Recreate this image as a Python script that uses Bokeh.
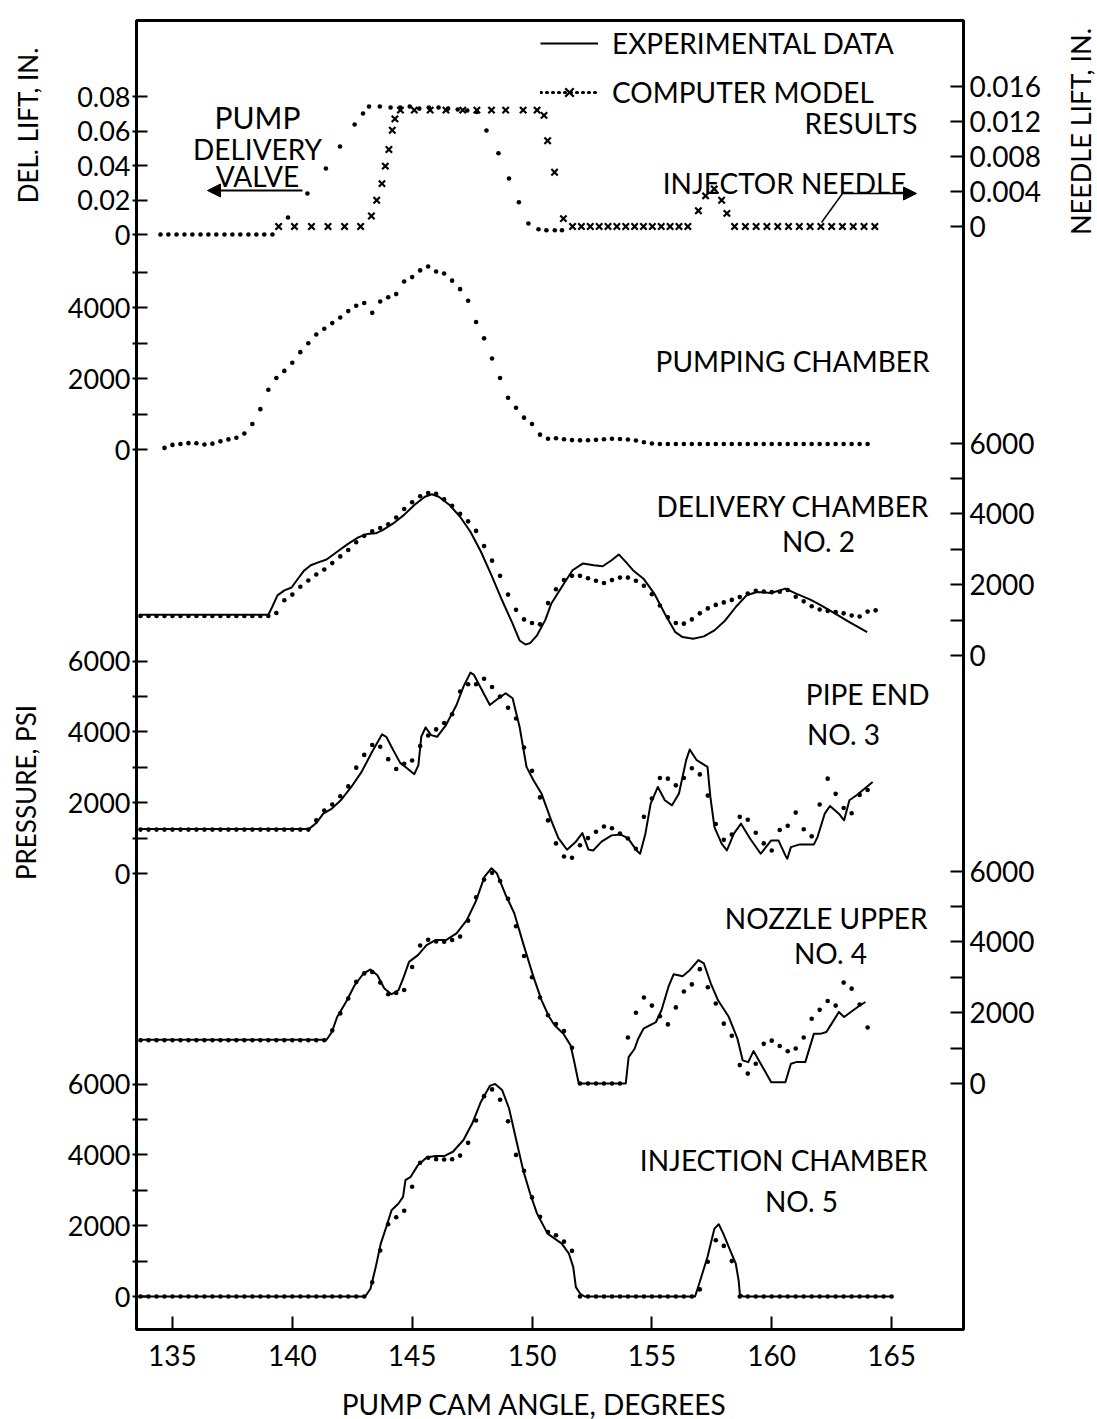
from bokeh.plotting import figure
from bokeh.models import (Range1d, LinearAxis, FixedTicker, Label, Arrow,
                          NormalHead, Legend, LegendItem)
from bokeh.embed import file_html
from bokeh.resources import INLINE

# ---------------------------------------------------------------- data
ANGLE_TICKS = [135, 140, 145, 150, 155, 160, 165]

VALVE_TICKS = [0, 0.02, 0.04, 0.06, 0.08]
VALVE_TICK_LABELS = ["0", "0.02", "0.04", "0.06", "0.08"]
NEEDLE_TICKS = [0, 0.004, 0.008, 0.012, 0.016]
NEEDLE_TICK_LABELS = ["0", "0.004", "0.008", "0.012", "0.016"]
PSI_TICKS = [0, 1000, 2000, 3000, 4000, 5000, 6000]
PSI_TICK_LABELS = ["0", "", "2000", "", "4000", "", "6000"]
PUMP_TICKS = [0, 1000, 2000, 3000, 4000, 5000]
PUMP_TICK_LABELS = ["0", "", "2000", "", "4000", ""]

# pump delivery valve lift, computer model (dots), inches
VALVE_DEG = [134.5, 134.83, 135.17, 135.5, 135.83, 136.17, 136.5, 136.83, 137.17,
             137.5, 137.83, 138.17, 138.5, 138.83, 139.17, 139.82, 140.63, 141.4,
             141.99, 142.6, 142.95, 143.2, 143.65, 144.1, 144.5, 144.9, 145.3, 145.7,
             146.1, 146.5, 146.9, 147.3, 147.7, 148.1, 148.6, 149.04, 149.45, 149.85,
             150.27, 150.6, 150.95, 151.25]
VALVE_LIFT = [0, 0, 0, 0, 0, 0, 0, 0, 0, 0, 0, 0, 0, 0, 0, 0.0099, 0.0238, 0.0383,
              0.0510, 0.0638, 0.0701, 0.0742, 0.0742, 0.0736, 0.0736, 0.0742, 0.0730,
              0.0736, 0.0736, 0.0730, 0.0725, 0.0719, 0.0710, 0.0603, 0.0471, 0.0325,
              0.0187, 0.0064, 0.0030, 0.0025, 0.0025, 0.0025]

# injector needle lift, computer model (x marks), inches
NEEDLE_DEG = [139.43, 140.09, 140.80, 141.49, 142.18, 142.85, 143.30, 143.52, 143.74,
              143.88, 144.03, 144.17, 144.28, 144.51, 145.09, 145.75, 146.41, 147.11,
              147.70, 148.31, 148.90, 149.63, 150.21, 150.50, 150.65, 150.94, 151.31,
              151.69, 152.06, 152.43, 152.80, 153.17, 153.54, 153.91, 154.28, 154.65,
              155.02, 155.39, 155.76, 156.13, 156.50, 156.94, 157.24, 157.60, 157.91,
              158.13, 158.45, 158.90, 159.35, 159.80, 160.25, 160.70, 161.15, 161.60,
              162.05, 162.50, 162.95, 163.40, 163.85, 164.30]
NEEDLE_LIFT = [0, 0, 0, 0, 0, 0, 0.0012, 0.0030, 0.0049, 0.0069, 0.0088, 0.0110, 0.0123,
               0.0133, 0.0133, 0.0133, 0.0133, 0.0133, 0.0133, 0.0133, 0.0133, 0.0133,
               0.0133, 0.0127, 0.0098, 0.0062, 0.0009, 0, 0, 0, 0, 0, 0, 0, 0, 0, 0, 0,
               0, 0, 0, 0.0018, 0.0035, 0.0043, 0.0030, 0.0015, 0, 0, 0, 0, 0, 0, 0, 0,
               0, 0, 0, 0, 0, 0]

# computer model output interval (degrees of cam angle)
MODEL_STEP = 1 / 3

# pumping chamber, model only, psi
PUMP_MODEL_START = 134.667
PUMP_MODEL_PSI = [45, 130, 155, 180, 175, 140, 165, 230, 285, 330, 450, 720, 1140, 1690,
                  2020, 2220, 2450, 2750, 3000, 3250, 3410, 3570, 3730, 3910, 4060, 4140,
                  3860, 4180, 4300, 4390, 4745, 4870, 5060, 5170, 5030, 4970, 4770, 4530,
                  4200, 3600, 3140, 2570, 2020, 1460, 1180, 900, 720, 420, 305, 320, 290,
                  265, 258, 260, 272, 288, 302, 295, 283, 255, 205, 170, 155, 155, 155,
                  155, 155, 155, 155, 155, 155, 155, 155, 155, 155, 155, 155, 155, 155,
                  155, 155, 155, 155, 155, 155, 155, 155, 155, 155]

# delivery chamber no. 2, psi
DLV_EXP_DEG = [133.6, 139.0, 139.16, 139.38, 139.67, 139.97, 140.19, 140.48, 140.77,
               141.14, 141.43, 141.87, 142.31, 142.75, 143.11, 143.48, 143.77, 144.21,
               144.65, 145.09, 145.53, 145.82, 146.11, 146.56, 147.0, 147.43, 147.87,
               148.31, 148.75, 149.19, 149.48, 149.73, 149.92, 150.21, 150.55, 150.8,
               151.24, 151.69, 152.13, 152.58, 152.95, 153.32, 153.62, 153.91, 154.21,
               154.65, 155.10, 155.54, 155.98, 156.28, 156.72, 157.17, 157.61, 158.06,
               158.50, 158.95, 159.39, 159.98, 160.57, 161.02, 161.61, 162.06, 162.65,
               163.24, 163.98]
DLV_EXP_PSI = [1150, 1150, 1370, 1700, 1840, 1920, 2125, 2390, 2550, 2645, 2710, 2930,
               3145, 3335, 3430, 3450, 3540, 3730, 3965, 4250, 4485, 4555, 4485, 4250,
               3920, 3495, 2930, 2265, 1560, 900, 425, 310, 350, 570, 1000, 1460, 1935,
               2408, 2600, 2550, 2520, 2690, 2855, 2645, 2410, 2170, 1750, 1180, 660, 520,
               475, 540, 710, 990, 1370, 1700, 1795, 1765, 1890, 1750, 1580, 1415, 1180,
               945, 660]
DLV_MODEL_START = 133.667
DLV_MODEL_PSI = [1115, 1115, 1115, 1115, 1115, 1115, 1115, 1115, 1115, 1115, 1115, 1115,
                 1115, 1115, 1115, 1115, 1115, 1200, 1560, 1720, 1940, 2120, 2290, 2430,
                 2610, 2800, 2980, 3200, 3380, 3510, 3600, 3710, 3900, 4140, 4330, 4500,
                 4590, 4570, 4410, 4230, 4000, 3790, 3520, 3090, 2680, 2250, 1720, 1290,
                 1020, 920, 880, 1480, 1870, 2130, 2250, 2250, 2180, 2110, 2050, 2130,
                 2200, 2200, 2110, 1970, 1730, 1410, 1080, 920, 900, 1020, 1190, 1330,
                 1430, 1500, 1570, 1650, 1750, 1830, 1810, 1790, 1800, 1850, 1660, 1530,
                 1390, 1300, 1260, 1225, 1190, 1130, 1100, 1240, 1275]

# pipe end no. 3, psi
PIPE_EXP_DEG = [133.6, 140.7, 141.0, 141.29, 141.65, 142.02, 142.46, 142.89, 143.33,
                143.74, 143.92, 144.21, 144.50, 144.80, 145.09, 145.26, 145.38, 145.56,
                145.79, 146.04, 146.41, 146.85, 147.14, 147.43, 147.58, 147.87, 148.24,
                148.60, 148.90, 149.19, 149.48, 149.77, 150.06, 150.4, 150.8, 151.1,
                151.46, 151.83, 152.10, 152.35, 152.55, 152.9, 153.32, 153.7, 154.0,
                154.36, 154.51, 154.73, 154.95, 155.25, 155.54, 155.84, 156.13, 156.43,
                156.58, 156.87, 157.32, 157.44, 157.61, 157.91, 158.13, 158.42, 158.72,
                159.10, 159.54, 159.98, 160.28, 160.57, 160.65, 160.80, 161.17, 161.76,
                161.91, 162.21, 162.43, 162.80, 163.02, 163.24, 163.54, 164.21]
PIPE_EXP_PSI = [1260, 1260, 1425, 1690, 1833, 2068, 2445, 2870, 3437, 3929, 3862, 3485,
                3125, 2966, 2805, 3060, 3862, 4127, 3909, 3862, 4193, 4760, 5278, 5675,
                5609, 5232, 4760, 4949, 5091, 4949, 4146, 3012, 2635, 2250, 1500, 1000,
                671, 900, 1142, 680, 650, 900, 1077, 1100, 1000, 652, 558, 1125, 1975,
                2445, 2068, 1926, 2258, 3201, 3504, 3201, 3012, 2162, 1312, 841, 652, 1125,
                1408, 983, 558, 935, 935, 510, 416, 745, 822, 822, 1029, 1690, 1907, 1690,
                1502, 2068, 2210, 2587]
PIPE_MODEL_START = 133.667
PIPE_MODEL_PSI = [1240, 1240, 1240, 1240, 1240, 1240, 1240, 1240, 1240, 1240, 1240, 1240,
                  1240, 1240, 1240, 1240, 1240, 1240, 1240, 1240, 1240, 1240, 1500, 1780,
                  1950, 2180, 2460, 2990, 3350, 3630, 3580, 3230, 2950, 3100, 3190, 3600,
                  3900, 4070, 4250, 4500, 5140, 5345, 5345, 5500, 5270, 5000, 4680, 4380,
                  3560, 2900, 2150, 1500, 850, 480, 445, 800, 1000, 1180, 1330, 1280, 1130,
                  990, 700, 1600, 2120, 2700, 2680, 2490, 2700, 2975, 2800, 2200, 1400, 950,
                  1100, 1600, 1520, 1150, 850, 650, 1230, 1350, 1720, 1250, 1050, 1950,
                  2680, 2250, 1850, 1700, 2220, 2360]

# nozzle upper no. 4, psi
NOZ_EXP_DEG = [133.6, 141.43, 141.65, 141.87, 142.24, 142.60, 142.97, 143.26, 143.55,
               143.84, 144.14, 144.43, 144.65, 144.87, 145.24, 145.60, 145.97, 146.41,
               146.85, 147.28, 147.65, 148.02, 148.31, 148.53, 148.90, 149.26, 149.63,
               150.06, 150.4, 150.7, 150.94, 151.31, 151.61, 151.75, 151.95, 153.91,
               154.03, 154.28, 154.43, 154.65, 155.17, 155.40, 155.69, 155.91, 156.28,
               156.58, 156.94, 157.17, 157.46, 157.76, 158.21, 158.57, 158.79, 159.02,
               159.24, 159.54, 159.98, 160.57, 160.80, 161.02, 161.40, 161.76, 162.06,
               162.28, 162.50, 162.80, 163.02, 163.40, 163.69, 163.91]
NOZ_EXP_PSI = [1237, 1237, 1455, 1878, 2303, 2776, 3107, 3221, 3060, 2683, 2521, 2635,
               3012, 3437, 3626, 3909, 4051, 4051, 4241, 4618, 5136, 5845, 6082, 5941,
               5326, 4808, 3958, 3012, 2350, 1900, 1643, 1408, 1077, 652, 0, 0, 746, 982,
               1266, 1549, 1737, 2068, 2728, 3088, 3031, 3201, 3485, 3391, 2824, 2351,
               1878, 1266, 652, 604, 915, 558, 37, 37, 558, 604, 604, 1408, 1408, 1455,
               1691, 2020, 1878, 2068, 2210, 2303]
NOZ_MODEL_START = 133.667
NOZ_MODEL_PSI = [1220, 1220, 1220, 1220, 1220, 1220, 1220, 1220, 1220, 1220, 1220, 1220,
                 1220, 1220, 1220, 1220, 1220, 1220, 1220, 1220, 1220, 1220, 1220, 1220,
                 1500, 1980, 2400, 2870, 3110, 3150, 2850, 2520, 2560, 2640, 3290, 3900,
                 4060, 4010, 4003, 4055, 4150, 4600, 5260, 5760, 5950, 5720, 5220, 4440,
                 3600, 3000, 2430, 1930, 1680, 1480, 1010, 0, 0, 0, 0, 0, 0, 1300, 2000,
                 2430, 2200, 1900, 1670, 2150, 2600, 2800, 3230, 2720, 2260, 1690, 1350,
                 520, 280, 560, 1120, 1210, 1060, 910, 990, 1300, 1830, 2080, 2330, 2200,
                 2850, 2680, 2230, 1580]

# injection chamber no. 5, psi
INJ_EXP_DEG = [133.6, 143.04, 143.26, 143.48, 143.69, 143.92, 144.14, 144.43, 144.62,
               144.72, 144.94, 145.24, 145.60, 145.97, 146.33, 146.70, 147.14, 147.51,
               147.87, 148.24, 148.46, 148.75, 149.04, 149.31, 149.63, 149.92, 150.21,
               150.65, 151.24, 151.54, 151.72, 151.83, 152.01, 152.2, 156.80, 156.95,
               157.32, 157.61, 157.79, 157.98, 158.21, 158.50, 158.62, 158.67, 158.8,
               165.0]
INJ_EXP_PSI = [0, 0, 218, 830, 1493, 1964, 2436, 2626, 2813, 3286, 3380, 3711, 3929,
               3966, 3966, 4089, 4420, 4892, 5504, 5949, 6005, 5836, 5318, 4515, 3570,
               2909, 2342, 1776, 1493, 1209, 830, 264, 76, 0, 0, 312, 1114, 1918, 2040,
               1776, 1398, 926, 453, 76, 0, 0]
INJ_MODEL_START = 133.667
INJ_MODEL_PSI = [0, 0, 0, 0, 0, 0, 0, 0, 0, 0, 0, 0, 0, 0, 0, 0, 0, 0, 0, 0, 0, 0, 0, 0,
                 0, 0, 0, 0, 0, 400, 1300, 2040, 2240, 2420, 3100, 3780, 3920, 3880, 3872,
                 3875, 3980, 4340, 4970, 5660, 5850, 5560, 4950, 4000, 3550, 2800, 2250,
                 1820, 1730, 1550, 1290, 0, 0, 0, 0, 0, 0, 0, 0, 0, 0, 0, 0, 0, 0, 0, 200,
                 980, 1590, 1430, 1000, 0, 0, 0, 0, 0, 0, 0, 0, 0, 0, 0, 0, 0, 0, 0, 0, 0,
                 0, 0, 0]

# ---------------------------------------------------------------- layout
FONT = "Lato"
INK = "black"
W, H = 1097, 1419
FR_L, FR_R, FR_T, FR_B = 136, 963, 20, 1329
DEG_START, DEG_END = 133.5, 168.0
PX_PER_DEG = (FR_R - FR_L) / (DEG_END - DEG_START)

# vertical calibration of every strip: (pixel row of its zero, pixels per unit)
STRIPS = {
    "valve": (234, 34.5 / 0.02),
    "needle": (226, 35.0 / 0.004),
    "pump": (449, 0.0354),
    "dlv": (655, 0.0354),
    "pipe": (873, 0.0354),
    "noz": (1083, 0.0354),
    "inj": (1296, 0.0354),
}

FH = FR_B - FR_T
p = figure(width=W, height=H, output_backend="svg", toolbar_location=None,
           x_range=Range1d(DEG_START, DEG_END), y_range=Range1d(0, FH),
           min_border_left=FR_L, min_border_right=W - FR_R,
           min_border_top=FR_T, min_border_bottom=H - FR_B)
p.extra_y_ranges = {k: Range1d(start=(z - FR_B) / s, end=(z - FR_T) / s)
                    for k, (z, s) in STRIPS.items()}
p.grid.visible = False
p.outline_line_color = INK
p.outline_line_width = 3
p.background_fill_color = "white"
p.border_fill_color = "white"


def tick_pos(strip, v):
    z, s = STRIPS[strip]
    return round((FR_B - z) + v * s, 2)


def scale_ticks(groups):
    ticks, overrides = [], {}
    for strip, vals, labels in groups:
        for v, lab in zip(vals, labels):
            t = tick_pos(strip, v)
            ticks.append(t)
            overrides[t] = lab
    return ticks, overrides


def style_axis(ax, tin, tout, standoff, size):
    ax.axis_line_width = 3
    ax.axis_line_color = INK
    ax.major_tick_line_width = 2
    ax.major_tick_line_color = INK
    ax.major_tick_in = tin
    ax.major_tick_out = tout
    ax.minor_tick_line_color = None
    ax.major_label_text_font = FONT
    ax.major_label_text_font_size = size
    ax.major_label_text_color = INK
    ax.major_label_standoff = standoff


lt, lo = scale_ticks([("valve", VALVE_TICKS, VALVE_TICK_LABELS),
                      ("pump", PUMP_TICKS, PUMP_TICK_LABELS),
                      ("pipe", PSI_TICKS, PSI_TICK_LABELS),
                      ("inj", PSI_TICKS, PSI_TICK_LABELS)])
left = p.yaxis[0]
left.ticker = FixedTicker(ticks=lt)
left.major_label_overrides = lo
style_axis(left, 11, 4, 2, "27px")

rt, ro = scale_ticks([("needle", NEEDLE_TICKS, NEEDLE_TICK_LABELS),
                      ("dlv", PSI_TICKS, PSI_TICK_LABELS),
                      ("noz", PSI_TICKS, PSI_TICK_LABELS)])
right = LinearAxis(ticker=FixedTicker(ticks=rt), major_label_overrides=ro)
style_axis(right, 13, 0, 6, "28px")
p.add_layout(right, "right")

bottom = p.xaxis[0]
bottom.ticker = FixedTicker(ticks=ANGLE_TICKS)
style_axis(bottom, 13, 0, 15, "28px")

# ---------------------------------------------------------------- marks
def model_angles(start, values):
    return [round(start + i * MODEL_STEP, 3) for i in range(len(values))]


dot_kw = dict(marker="circle", size=4.6, fill_color=INK, line_color=None)
line_kw = dict(line_color=INK, line_width=2, line_join="round")

p.scatter(VALVE_DEG, VALVE_LIFT, y_range_name="valve", **dot_kw)
needle_r = p.scatter(NEEDLE_DEG, NEEDLE_LIFT, y_range_name="needle", marker="x",
                     size=9, line_color=INK, line_width=2.2)
p.scatter(model_angles(PUMP_MODEL_START, PUMP_MODEL_PSI), PUMP_MODEL_PSI,
          y_range_name="pump", **dot_kw)

exp_lines = []
for strip, edeg, epsi, mstart, mpsi in [
        ("dlv", DLV_EXP_DEG, DLV_EXP_PSI, DLV_MODEL_START, DLV_MODEL_PSI),
        ("pipe", PIPE_EXP_DEG, PIPE_EXP_PSI, PIPE_MODEL_START, PIPE_MODEL_PSI),
        ("noz", NOZ_EXP_DEG, NOZ_EXP_PSI, NOZ_MODEL_START, NOZ_MODEL_PSI),
        ("inj", INJ_EXP_DEG, INJ_EXP_PSI, INJ_MODEL_START, INJ_MODEL_PSI)]:
    exp_lines.append(p.line(edeg, epsi, y_range_name=strip, **line_kw))
    p.scatter(model_angles(mstart, mpsi), mpsi, y_range_name=strip, **dot_kw)

# legend key for the dotted model curves (one undrawn NaN point so the key is shown)
dotted_key = p.line(x=[float("nan")], y=[float("nan")], line_color=INK, line_width=3.2,
                    line_dash="1 5", line_cap="round")

legend = Legend(items=[LegendItem(label="EXPERIMENTAL DATA", renderers=[exp_lines[0]]),
                       LegendItem(label="COMPUTER MODEL", renderers=[needle_r, dotted_key])],
                location=(540 - FR_L, FR_B - 109), orientation="vertical",
                glyph_width=58, glyph_height=30, label_height=30, label_standoff=14,
                spacing=15, padding=0, margin=0, border_line_color=None,
                background_fill_alpha=0, label_text_font=FONT,
                label_text_font_size="28px", label_text_color=INK)
p.add_layout(legend)

# ---------------------------------------------------------------- annotations
def at_px(x_px, y_px, strip):
    z, s = STRIPS[strip]
    return DEG_START + (x_px - FR_L) / PX_PER_DEG, (z - y_px) / s


TEXTS = [
    ("PUMP", 257, 116, "center", "valve", "30px"),
    ("DELIVERY", 257, 148, "center", "valve", "28px"),
    ("VALVE", 257, 175, "center", "valve", "28px"),
    ("RESULTS", 917, 122, "right", "needle", "28px"),
    ("INJECTOR NEEDLE", 906, 182, "right", "needle", "28px"),
    ("PUMPING CHAMBER", 929, 360, "right", "pump", "28px"),
    ("DELIVERY CHAMBER", 929, 505, "right", "dlv", "28px"),
    ("NO. 2", 818, 540, "center", "dlv", "28px"),
    ("PIPE END", 929, 693, "right", "pipe", "28px"),
    ("NO. 3", 843, 733, "center", "pipe", "28px"),
    ("NOZZLE UPPER", 927, 917, "right", "noz", "28px"),
    ("NO. 4", 830, 952, "center", "noz", "28px"),
    ("INJECTION CHAMBER", 927, 1159, "right", "inj", "28px"),
    ("NO. 5", 801, 1200, "center", "inj", "28px"),
]
for text, xp, yp, align, strip, size in TEXTS:
    x, y = at_px(xp, yp, strip)
    p.add_layout(Label(x=x, y=y, y_range_name=strip, text=text, text_align=align,
                       text_baseline="middle", text_font=FONT, text_font_size=size,
                       text_color=INK))

# axis titles live outside the frame, so they go into side panels (not clipped)
SIDE_TEXTS = [
    ("DEL. LIFT, IN.", 27, 125, "valve", 90, "left", "26px"),
    ("PRESSURE, PSI", 25, 792, "pipe", 90, "left", "26px"),
    ("NEEDLE LIFT, IN.", 1080, 131, "needle", 90, "right", "27px"),
    ("PUMP CAM ANGLE, DEGREES", 534, 1403, "inj", 0, "below", "28px"),
]
for text, xp, yp, strip, ang, side, size in SIDE_TEXTS:
    x, y = at_px(xp, yp, strip)
    p.add_layout(Label(x=x, y=y, y_range_name=strip, text=text, text_align="center",
                       text_baseline="middle", text_font=FONT, text_font_size=size,
                       text_color=INK, angle=ang, angle_units="deg"), side)

head = dict(size=13, fill_color=INK, line_color=INK, line_width=1)
x0, y0 = at_px(302, 190, "valve")
x1, y1 = at_px(207, 190, "valve")
p.add_layout(Arrow(x_start=x0, y_start=y0, x_end=x1, y_end=y1, y_range_name="valve",
                   end=NormalHead(**head), line_width=2, line_color=INK))
xa, ya = at_px(821, 222, "needle")
xb, yb = at_px(842, 193, "needle")
xc, yc = at_px(916, 193, "needle")
p.add_layout(Arrow(x_start=xa, y_start=ya, x_end=xb, y_end=yb, y_range_name="needle",
                   end=None, line_width=1.5, line_color=INK))
p.add_layout(Arrow(x_start=xb, y_start=yb, x_end=xc, y_end=yc, y_range_name="needle",
                   end=NormalHead(**head), line_width=1.5, line_color=INK))

open("out.html", "w").write(file_html(p, INLINE))
